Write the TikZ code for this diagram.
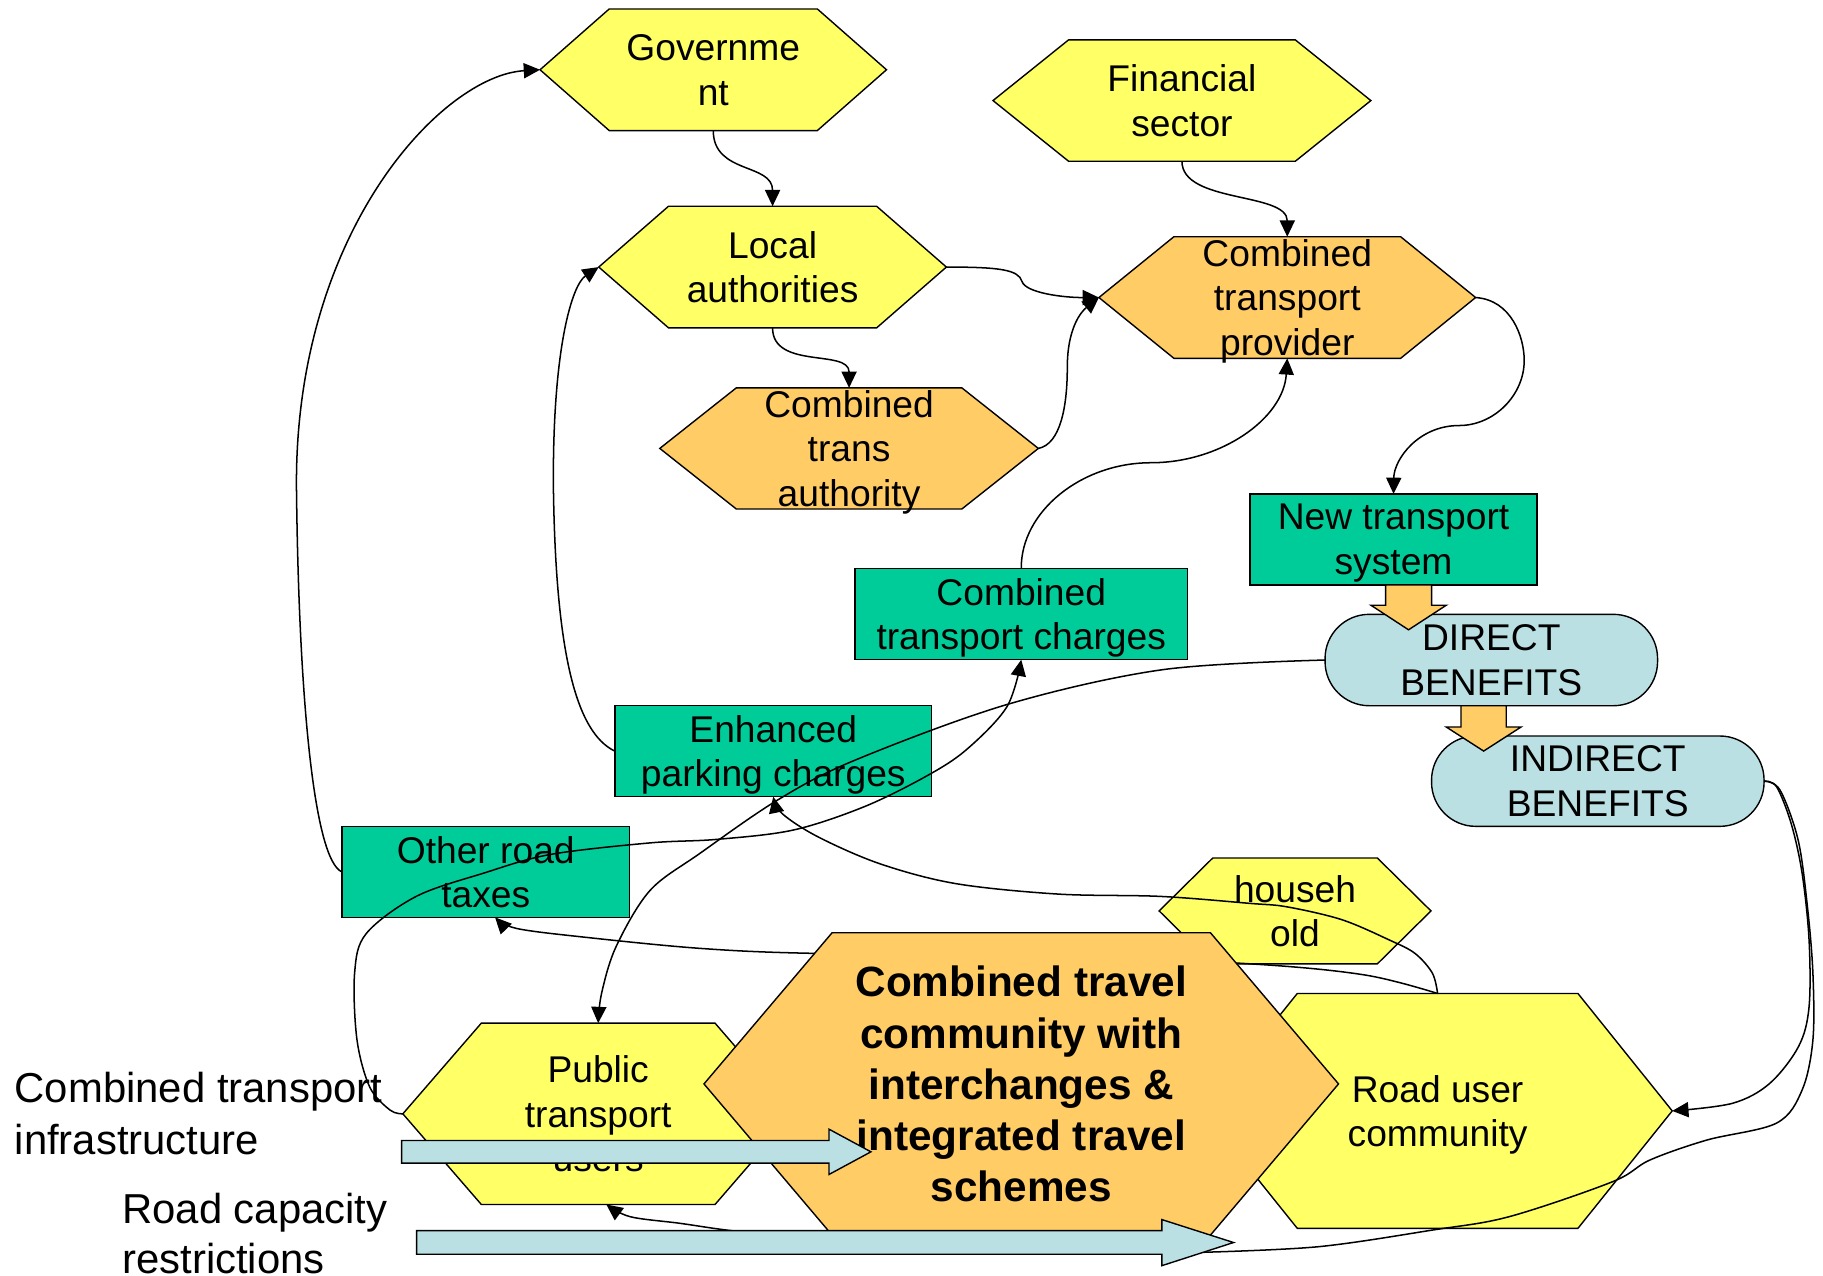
\documentclass[tikz,border=0pt]{standalone}
\usepackage{fontspec}
\setmainfont{Liberation Sans}
\usetikzlibrary{arrows.meta}
\definecolor{hexyellow}{HTML}{FFFF66}
\definecolor{hexorange}{HTML}{FFCC66}
\definecolor{boxgreen}{HTML}{00CC99}
\definecolor{benblue}{HTML}{BBE0E3}
\tikzset{
  hexline/.style={draw=black, line width=1.2pt, line join=miter},
  hextext/.style={font=\fontsize{32}{38.3}\selectfont, align=center, inner sep=0pt, text depth=0pt},
  centraltext/.style={font=\fontsize{36.4}{44}\selectfont\bfseries, align=center, inner sep=0pt, text depth=0pt},
  gbox/.style={draw=black, line width=1.2pt, fill=boxgreen, rectangle, inner sep=0pt, outer sep=0pt,
    font=\fontsize{32}{38.3}\selectfont, align=center, text depth=0pt},
  pill/.style={draw=black, line width=1.2pt, fill=benblue, rectangle, rounded corners=38pt, inner sep=0pt,
    outer sep=0pt, font=\fontsize{32}{38.3}\selectfont, align=center, text depth=0pt},
  conn/.style={draw=black, line width=1.3pt, -{Triangle[length=14pt,width=13pt]}},
  link/.style={draw=black, line width=1.3pt},
  blockarrow/.style={draw=black, line width=1.2pt, fill=benblue, line join=miter},
  orangearrow/.style={draw=black, line width=1.2pt, fill=hexorange, line join=miter},
  sidelabel/.style={font=\fontsize{36}{44}\selectfont, inner sep=0pt, anchor=base west}
}
% #1 name, #2 fill, #3 cx, #4 cy, #5 half top edge, #6 half width, #7 half height, #8 text style, #9 text
\newcommand{\myhex}[9]{%
  \filldraw[hexline, fill=#2] (#3-#6,#4) -- (#3-#5,#4-#7) -- (#3+#5,#4-#7) -- (#3+#6,#4)
     -- (#3+#5,#4+#7) -- (#3-#5,#4+#7) -- cycle;
  \coordinate (#1-w) at (#3-#6,#4);
  \coordinate (#1-e) at (#3+#6,#4);
  \coordinate (#1-n) at (#3,#4-#7);
  \coordinate (#1-s) at (#3,#4+#7);
  \node[#8] (#1) at (#3,#4) {#9};
}
\begin{document}
\begin{tikzpicture}[x=1pt,y=-1pt]
\fill[white] (0,0) rectangle (1568,1097);
\useasboundingbox (0,0) rectangle (1568,1097);

% hexagons behind
\myhex{rd}{hexyellow}{1236.5}{955.5}{120.7}{201.8}{101}{hextext}{Road user\\community}
\myhex{pt}{hexyellow}{514.5}{958}{100.5}{168}{78}{hextext}{Public\\transport\\users}
\myhex{hh}{hexyellow}{1113.9}{783.5}{70.8}{116.9}{45.5}{hextext}{househ\\old}
\myhex{gov}{hexyellow}{613.5}{60}{89.5}{149}{52.3}{hextext}{Governme\\nt}
\myhex{loc}{hexyellow}{664.5}{229.7}{89.5}{149.5}{52.3}{hextext}{Local\\authorities}
\myhex{auth}{hexorange}{730.3}{385.7}{97}{162.8}{52.1}{hextext}{Combined\\trans\\authority}
\myhex{fin}{hexyellow}{1016.6}{86.5}{97.5}{162.5}{52.2}{hextext}{Financial\\sector}
\myhex{prov}{hexorange}{1107.2}{255.9}{97.5}{162}{52.3}{hextext}{Combined\\transport\\provider}

% boxes
\node[gbox, minimum width=246.6pt, minimum height=78.3pt] (nts) at (1198.6,464) {New transport\\system};
\node[gbox, minimum width=285.7pt, minimum height=78.5pt] (chg) at (878.4,528.2) {Combined\\transport charges};
\node[gbox, minimum width=272.3pt, minimum height=78.3pt] (pk) at (665.1,646.1) {Enhanced\\parking charges};
\node[gbox, minimum width=247.1pt, minimum height=78pt] (ort) at (417.8,750) {Other road\\taxes};
\node[pill, minimum width=286pt, minimum height=78.6pt] (dir) at (1282.7,567.7) {DIRECT\\BENEFITS};
\node[pill, minimum width=286pt, minimum height=77.7pt] (ind) at (1374.3,671.9) {INDIRECT\\BENEFITS};

% orange block arrows
\filldraw[orangearrow] (1191.8,503.1) -- (1231.3,503.1) -- (1231.3,520.6) -- (1243.9,520.6)
  -- (1211.5,541.7) -- (1179.2,520.6) -- (1191.8,520.6) -- cycle;
\filldraw[orangearrow] (1256.6,607) -- (1295.5,607) -- (1295.5,625.3) -- (1308.3,625.3)
  -- (1276.1,646) -- (1243.9,625.3) -- (1256.6,625.3) -- cycle;

% helper coordinates
\coordinate (ba1-tip) at (749.1,990.7);
\coordinate (ba2-tip) at (1061,1068.7);
\coordinate (ba2-end) at (1035,1077.1);
\coordinate (ort-arr) at ([xshift=8pt]ort.south);
\coordinate (pt-arr) at ([xshift=7pt]pt-s);
\coordinate (c17) at (680,1064);

% connectors
\draw[conn] (gov-s) .. controls (613.5,150) and (664.5,140) .. (loc-n);
\draw[conn] (loc-s) .. controls (664.5,318) and (730.3,300) .. (auth-n);
\draw[conn] (fin-s) .. controls (1016.6,175) and (1107.2,165) .. (prov-n);
\draw[conn] (loc-e) .. controls (860,229.7) and (876,232) .. (879,242) .. controls (882,252) and (915,256) .. (prov-w);
\draw[conn] (auth-e) .. controls (912,382) and (918,350) .. (918,316) .. controls (918,282) and (930,268) .. (prov-w);
\draw[conn] (prov-e) .. controls (1300,258) and (1311,290) .. (1311,310) .. controls (1311,340) and (1285,366) .. (1255,366)
  .. controls (1220,366) and (1199,395) .. (nts.north);
\draw[conn] (chg.north) .. controls (878,440) and (930,398) .. (990,398) .. controls (1050,398) and (1104,360) .. (prov-s);
\draw[conn] (ort.west) .. controls (270,740) and (257,600) .. (255,420) .. controls (253,200) and (380,65) .. (gov-w);
\draw[conn] (pk.west) .. controls (495,630) and (478,560) .. (476,420) .. controls (475,300) and (492,245) .. (loc-w);
\draw[conn] plot[smooth, tension=0.55] coordinates {(dir.west) (1000,576) (866,606) (735,654) (669,688)
  (602,734) (559,766) (530,814) (517.5,854) (pt-n)};
\draw[conn] plot[smooth, tension=0.55] coordinates {(pt-w) (335.5,954.8) (318,935) (307,894) (305,837)
  (315,803) (358,771) (416,751) (473,735) (559,725) (616,722) (682,714) (743,694) (796,668) (831,645)
  (866,608) (chg.south)};
\draw[conn] plot[smooth, tension=0.55] coordinates {(rd-n) (1232,837) (1217,820) (1195,808.5) (1154,791)
  (1107,780) (1075,777) (998,771) (910,769) (822,760) (757,743) (704,720) (673,700) (pk.south)};
\draw[conn] plot[smooth, tension=0.55] coordinates {(rd-n) (1174,838.6) (1075,829) (900,822) (700,820)
  (602,815.7) (502,806) (444,798.5) (ort-arr)};
\draw[conn] plot[smooth, tension=0.55] coordinates {(ind.east) (1528,676.6) (1540.5,708) (1550,751)
  (1556,808.5) (1556,866) (1547,900) (1522,932) (1490,949) (rd-e)};
\draw[link] plot[smooth, tension=0.55] coordinates {(ind.east) (1531,679.5) (1546.6,722.5) (1554.6,780)
  (1559.3,837) (1559.3,894.5) (1550,937.6) (1528,966) (1468,980.6) (1419,997.8) (1387,1016.4)
  (1298,1046.5) (1232,1058) (1134,1072.3) (ba2-end)};
\draw[conn] plot[smooth, tension=0.55] coordinates {(c17) (625,1058) (585,1052.2) (542,1046.5) (pt-arr)};

% central hexagon
\myhex{ctr}{hexorange}{878.4}{932.3}{162.75}{272.9}{130}{centraltext}{Combined travel\\community with\\interchanges \&\\integrated travel\\schemes}

% blue block arrows
\filldraw[blockarrow] (345.5,981) -- (713,981) -- (713,971.2) -- (ba1-tip) -- (713,1010.2)
  -- (713,1000.4) -- (345.5,1000.4) -- cycle;
\filldraw[blockarrow] (358.4,1058.5) -- (999.4,1058.5) -- (999.4,1049) -- (ba2-tip) -- (999.4,1088.6)
  -- (999.4,1078.8) -- (358.4,1078.8) -- cycle;

% side labels
\node[sidelabel] (lab1a) at (12.5,948.5) {Combined transport};
\node[sidelabel] (lab1b) at (12.5,992.6) {infrastructure};
\node[sidelabel] (lab2a) at (105,1052.2) {Road capacity};
\node[sidelabel] (lab2b) at (105,1095) {restrictions};
\end{tikzpicture}
\end{document}
